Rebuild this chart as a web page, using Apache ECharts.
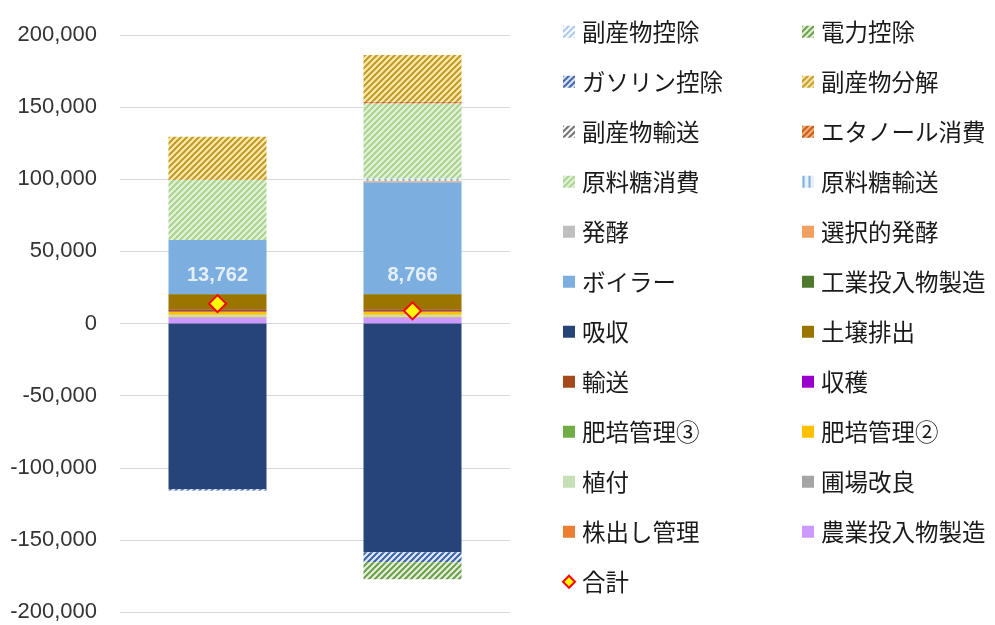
<!DOCTYPE html>
<html><head><meta charset="utf-8">
<script src="https://cdn.jsdelivr.net/npm/echarts@6/dist/echarts.min.js"></script>
<style>html,body{margin:0;padding:0;background:#fff}#c{width:995px;height:625px}</style>
</head><body><div id="c"></div>
<script>
// ---- data ----
const categories = ['ケース1', 'ケース2'];
const agriInputs        = [4000, 4000];      // 農業投入物製造
const ratoonMgmt        = [300, 300];        // 株出し管理
const fieldImprove      = [200, 200];        // 圃場改良
const planting          = [1600, 1600];      // 植付
const fert2             = [1800, 1800];      // 肥培管理②
const fert3             = [300, 300];        // 肥培管理③
const harvest           = [200, 200];        // 収穫
const transport         = [1500, 1500];      // 輸送
const soilEmission      = [10400, 10400];    // 土壌排出
const absorption        = [-114838, -158634];// 吸収
const industrialInputs  = [200, 200];        // 工業投入物製造
const boiler            = [37300, 77500];    // ボイラー
const selectiveFerm     = [0, 700];          // 選択的発酵
const fermentation      = [0, 100];          // 発酵
const sugarTransport    = [0, 1700];         // 原料糖輸送
const sugarConsumption  = [41600, 52100];    // 原料糖消費
const ethanolConsumption= [300, 1200];       // エタノール消費
const byproductTransport= [0, 0];            // 副産物輸送
const byproductDecomp   = [29800, 32300];    // 副産物分解
const gasolineCredit    = [-900, -6900];     // ガソリン控除
const powerCredit       = [0, -11800];       // 電力控除
const byproductCredit   = [0, 0];            // 副産物控除
const totals            = [13762, 8766];     // 合計
const yTicks = { min: -200000, max: 200000, interval: 50000 };

// ---- styles ----
function hatch(fg, bg, vertical) {
  const s = 6;
  const c = document.createElement('canvas');
  c.width = s; c.height = s;
  const g = c.getContext('2d');
  g.fillStyle = bg; g.fillRect(0, 0, s, s);
  g.strokeStyle = fg; g.lineWidth = 2;
  g.beginPath();
  if (vertical) {
    g.moveTo(1.5, 0); g.lineTo(1.5, s);
  } else {
    g.moveTo(-1, s + 1); g.lineTo(s + 1, -1);
    g.moveTo(-1, 1); g.lineTo(1, -1);
    g.moveTo(s - 1, s + 1); g.lineTo(s + 1, s - 1);
  }
  g.stroke();
  return { image: c, repeat: 'repeat' };
}

const barDefs = [
  ['農業投入物製造', agriInputs, '#CC99FF'],
  ['株出し管理', ratoonMgmt, '#ED7D31'],
  ['圃場改良', fieldImprove, '#A5A5A5'],
  ['植付', planting, '#C5E0B4'],
  ['肥培管理②', fert2, '#FFC000'],
  ['肥培管理③', fert3, '#70AD47'],
  ['収穫', harvest, '#9900CC'],
  ['輸送', transport, '#A5481A'],
  ['土壌排出', soilEmission, '#9C7400'],
  ['吸収', absorption, '#264478'],
  ['工業投入物製造', industrialInputs, '#4F7A2E'],
  ['ボイラー', boiler, '#7DAEE0'],
  ['選択的発酵', selectiveFerm, '#F4A060'],
  ['発酵', fermentation, '#BFBFBF'],
  ['原料糖輸送', sugarTransport, hatch('#7FB0E0', '#E8F1FA', true)],
  ['原料糖消費', sugarConsumption, hatch('#A9D38E', '#E4F2DA')],
  ['エタノール消費', ethanolConsumption, hatch('#C55A11', '#F4B183')],
  ['副産物輸送', byproductTransport, hatch('#6E6E6E', '#FFFFFF')],
  ['副産物分解', byproductDecomp, hatch('#C09A30', '#FFEAA6')],
  ['ガソリン控除', gasolineCredit, hatch('#3A62A8', '#E2EAF6')],
  ['電力控除', powerCredit, hatch('#6A9E48', '#E6F0DE')],
  ['副産物控除', byproductCredit, hatch('#A8C8EA', '#FFFFFF')]
];

const series = barDefs.map(([name, data, color]) => ({
  name, type: 'bar', stack: 'total', data, barWidth: 98,
  itemStyle: { color }, emphasis: { disabled: true }
}));
series.push({
  name: '合計', type: 'line', data: totals, symbol: 'diamond', symbolSize: 17,
  lineStyle: { width: 0, opacity: 0 },
  itemStyle: { color: '#FFFF00', borderColor: '#FF0000', borderWidth: 2 },
  z: 10
});
const LABEL_ANCHOR = 33000;
series.push({
  type: 'scatter', data: categories.map(() => LABEL_ANCHOR), symbolSize: 0, silent: true, z: 11,
  label: { show: true, position: 'inside', color: '#FFFFFF', fontWeight: 'bold', fontSize: 20,
    fontFamily: 'Liberation Sans, Arial, sans-serif',
    formatter: p => totals[p.dataIndex].toLocaleString('en-US') }
});

const col1 = ['副産物控除','ガソリン控除','副産物輸送','原料糖消費','発酵','ボイラー','吸収','輸送','肥培管理③','植付','株出し管理','合計'];
const col2 = ['電力控除','副産物分解','エタノール消費','原料糖輸送','選択的発酵','工業投入物製造','土壌排出','収穫','肥培管理②','圃場改良','農業投入物製造'];
const legendBase = {
  orient: 'vertical', top: 15, itemWidth: 12, itemHeight: 12, itemGap: 26.5,
  selectedMode: false,
  textStyle: { fontFamily: 'Noto Sans CJK JP', fontSize: 23.5, color: '#1A1A1A', lineHeight: 22, padding: [0, 0, 0, 2] }
};
const mk = names => names.map(n => n === '合計' ? { name: n, icon: 'diamond' } : { name: n, icon: 'rect' });

const option = {
  animation: false,
  backgroundColor: '#FFFFFF',
  grid: { left: 120, right: 485, top: 35, bottom: 13, containLabel: false },
  legend: [
    Object.assign({}, legendBase, { left: 557, data: mk(col1) }),
    Object.assign({}, legendBase, { left: 797, data: mk(col2) })
  ],
  xAxis: { type: 'category', data: categories, axisLine: { show: false }, axisTick: { show: false }, axisLabel: { show: false } },
  yAxis: {
    type: 'value', min: yTicks.min, max: yTicks.max, interval: yTicks.interval,
    axisLine: { show: false }, axisTick: { show: false },
    splitLine: { lineStyle: { color: '#D9D9D9', width: 1 } },
    axisLabel: { fontFamily: 'Liberation Sans, Arial, sans-serif', fontSize: 22, color: '#333333', margin: 23,
      formatter: v => v.toLocaleString('en-US') }
  },
  series
};
echarts.init(document.getElementById('c'), null, { renderer: 'canvas' }).setOption(option);
</script>
</body></html>
